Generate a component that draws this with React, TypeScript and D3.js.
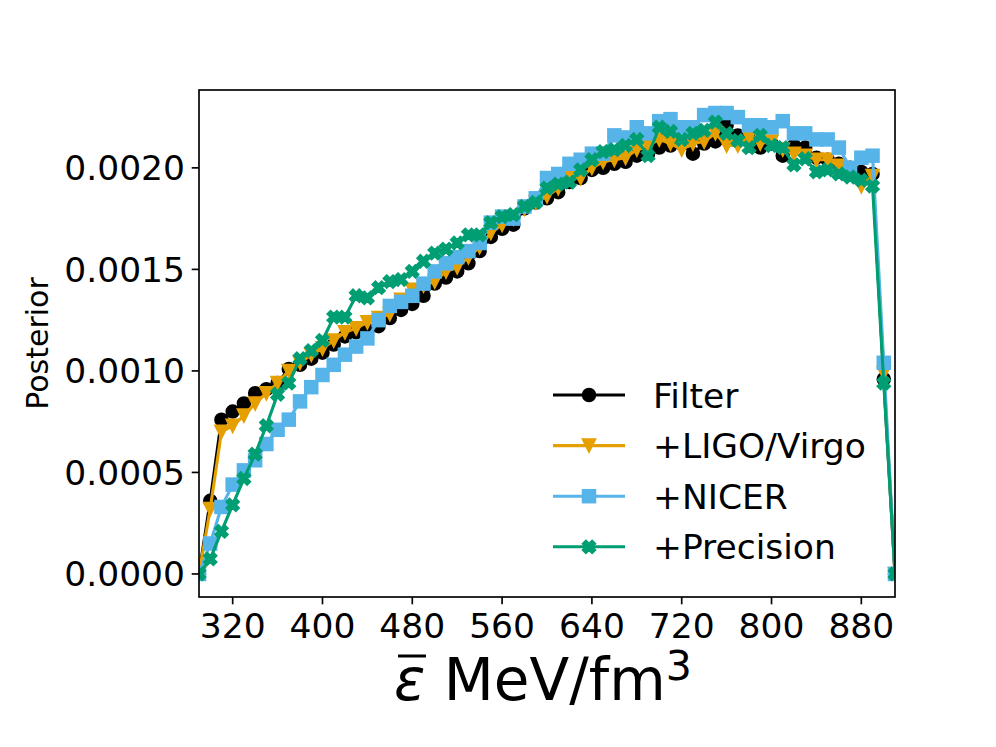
import React from "react";
import * as d3 from "d3";

const WIDTH = 996;
const HEIGHT = 747;
const MARGIN = { top: 90, right: 101, bottom: 150, left: 199 };

// energy density bins (MeV/fm^3)
const energy = [
  290, 300, 310, 320, 330, 340, 350, 360, 370, 380, 390, 400, 410, 420, 430, 440,
  450, 460, 470, 480, 490, 500, 510, 520, 530, 540, 550, 560, 570, 580, 590, 600,
  610, 620, 630, 640, 650, 660, 670, 680, 690, 700, 710, 720, 730, 740, 750, 760,
  770, 780, 790, 800, 810, 820, 830, 840, 850, 860, 870, 880, 890, 900, 910,
];

const filter = [
  0, 3.6e-4, 7.6e-4, 8.0e-4, 8.4e-4, 8.9e-4, 9.1e-4, 9.4e-4, 10.1e-4, 10.3e-4, 10.6e-4,
  10.9e-4, 11.3e-4, 11.7e-4, 11.9e-4, 12.0e-4, 12.2e-4, 12.6e-4, 13.0e-4, 13.3e-4, 13.7e-4,
  14.3e-4, 14.6e-4, 14.9e-4, 15.3e-4, 15.9e-4, 16.6e-4, 17.0e-4, 17.2e-4, 18.0e-4, 18.3e-4,
  18.5e-4, 18.8e-4, 19.3e-4, 19.5e-4, 19.9e-4, 20.0e-4, 20.2e-4, 20.3e-4, 20.6e-4, 20.7e-4,
  21.0e-4, 21.1e-4, 21.2e-4, 20.7e-4, 21.2e-4, 21.3e-4, 22.1e-4, 21.6e-4, 21.4e-4, 21.0e-4,
  21.2e-4, 20.6e-4, 21.1e-4, 21.0e-4, 20.5e-4, 20.4e-4, 20.2e-4, 20.0e-4, 19.8e-4, 19.7e-4,
  9.6e-4, 0,
];

const ligoVirgo = [
  0, 3.2e-4, 7.0e-4, 7.3e-4, 7.8e-4, 8.4e-4, 8.9e-4, 9.4e-4, 10.0e-4, 10.4e-4, 10.8e-4,
  11.1e-4, 11.5e-4, 11.9e-4, 12.1e-4, 12.4e-4, 12.6e-4, 12.8e-4, 13.5e-4, 14.0e-4, 14.2e-4,
  14.4e-4, 14.9e-4, 15.1e-4, 15.6e-4, 16.1e-4, 16.8e-4, 17.2e-4, 17.5e-4, 18.0e-4, 18.3e-4,
  18.6e-4, 19.0e-4, 19.5e-4, 19.5e-4, 20.0e-4, 20.3e-4, 20.4e-4, 20.5e-4, 20.9e-4, 21.1e-4,
  21.4e-4, 21.2e-4, 20.9e-4, 21.2e-4, 21.3e-4, 21.7e-4, 21.1e-4, 21.1e-4, 21.5e-4, 21.2e-4,
  21.3e-4, 20.9e-4, 20.7e-4, 20.6e-4, 20.4e-4, 20.4e-4, 20.1e-4, 19.8e-4, 19.1e-4, 19.6e-4,
  9.9e-4, 0,
];

const nicer = [
  0, 1.5e-4, 3.3e-4, 4.4e-4, 5.1e-4, 5.6e-4, 6.4e-4, 7.1e-4, 7.6e-4, 8.5e-4, 9.2e-4,
  9.8e-4, 10.3e-4, 10.8e-4, 11.2e-4, 11.6e-4, 12.5e-4, 13.2e-4, 13.4e-4, 13.7e-4, 14.3e-4,
  14.9e-4, 15.3e-4, 15.6e-4, 15.9e-4, 16.3e-4, 17.3e-4, 17.6e-4, 17.5e-4, 18.1e-4, 18.5e-4,
  19.5e-4, 19.7e-4, 20.2e-4, 20.4e-4, 20.7e-4, 20.7e-4, 21.6e-4, 21.5e-4, 22.0e-4, 21.7e-4,
  22.3e-4, 22.4e-4, 22.0e-4, 22.0e-4, 22.6e-4, 22.7e-4, 22.7e-4, 22.5e-4, 22.1e-4, 22.1e-4,
  22.0e-4, 22.3e-4, 21.7e-4, 21.7e-4, 21.4e-4, 21.4e-4, 21.0e-4, 20.0e-4, 20.5e-4, 20.6e-4,
  10.4e-4, 0,
];

const precision = [
  0, 0.74e-4, 2.1e-4, 3.4e-4, 4.7e-4, 5.9e-4, 7.3e-4, 8.85e-4, 9.4e-4, 10.6e-4, 11.0e-4,
  11.5e-4, 12.65e-4, 12.65e-4, 13.7e-4, 13.6e-4, 14.1e-4, 14.4e-4, 14.5e-4, 14.9e-4, 15.4e-4,
  15.8e-4, 16.0e-4, 16.3e-4, 16.7e-4, 16.7e-4, 17.3e-4, 17.6e-4, 17.7e-4, 18.1e-4, 18.3e-4,
  19.0e-4, 19.2e-4, 19.3e-4, 19.9e-4, 20.4e-4, 20.8e-4, 20.9e-4, 21.1e-4, 21.4e-4, 20.6e-4,
  22.0e-4, 21.8e-4, 21.4e-4, 21.7e-4, 21.85e-4, 22.25e-4, 21.7e-4, 21.35e-4, 21.0e-4, 21.6e-4,
  21.1e-4, 21.0e-4, 20.15e-4, 20.45e-4, 19.8e-4, 19.9e-4, 19.7e-4, 19.55e-4, 19.4e-4, 19.1e-4,
  9.4e-4, 0,
];

const xTicks = [320, 400, 480, 560, 640, 720, 800, 880];
const yTicks = [0, 0.0005, 0.001, 0.0015, 0.002];

const SERIES = [
  { label: "Filter", values: filter, color: "#000000", marker: "o" },
  { label: "+LIGO/Virgo", values: ligoVirgo, color: "#E69F00", marker: "v" },
  { label: "+NICER", values: nicer, color: "#56B4E9", marker: "s" },
  { label: "+Precision", values: precision, color: "#009E73", marker: "X" },
];

const FONT = "DejaVu Sans, sans-serif";
const TICK_FS = 34.5;
const MS = 12.5; // marker size in px

const Marker = ({ kind, x, y, color }) => {
  const h = MS / 2;
  const common = { fill: color, stroke: color, strokeWidth: 2 };
  if (kind === "o") return <circle cx={x} cy={y} r={h} {...common} />;
  if (kind === "s")
    return <rect x={x - h} y={y - h} width={MS} height={MS} {...common} />;
  if (kind === "v")
    return (
      <path
        d={`M${x},${y + h}L${x - h},${y - h}L${x + h},${y - h}Z`}
        {...common}
        strokeLinejoin="miter"
      />
    );
  // filled X
  const pts = [
    [-1, -2], [0, -1], [1, -2], [2, -1], [1, 0], [2, 1],
    [1, 2], [0, 1], [-1, 2], [-2, 1], [-1, 0], [-2, -1],
  ];
  const k = MS / 4;
  const d = "M" + pts.map(([a, b]) => `${x + a * k},${y + b * k}`).join("L") + "Z";
  return <path d={d} {...common} />;
};

export default function App() {
  const iw = WIDTH - MARGIN.left - MARGIN.right;
  const ih = HEIGHT - MARGIN.top - MARGIN.bottom;

  const xScale = d3
    .scaleLinear()
    .domain([energy[0], energy[energy.length - 1]])
    .range([0, iw]);

  const all = SERIES.flatMap((s) => s.values);
  const [lo, hi] = d3.extent(all);
  const pad = (hi - lo) * 0.05;
  const yScale = d3.scaleLinear().domain([lo - pad, hi + pad]).range([ih, 0]);

  const lineBuilder = d3
    .line()
    .x((_, i) => xScale(energy[i]))
    .y((d) => yScale(d));

  const fmt = d3.format(".4f");

  return (
    <svg
      width={WIDTH}
      height={HEIGHT}
      style={{ position: "absolute", left: 0, top: 0, background: "#fff" }}
      fontFamily={FONT}
    >
      <defs>
        <clipPath id="plot-area">
          <rect x={0} y={0} width={iw} height={ih} />
        </clipPath>
      </defs>
      <g transform={`translate(${MARGIN.left},${MARGIN.top})`}>
        <g clipPath="url(#plot-area)">
          {SERIES.map((s) => (
            <g key={s.label}>
              <path
                d={lineBuilder(s.values)}
                fill="none"
                stroke={s.color}
                strokeWidth={3.1}
                strokeLinejoin="round"
              />
              {s.values.map((v, i) => (
                <Marker
                  key={i}
                  kind={s.marker}
                  x={xScale(energy[i])}
                  y={yScale(v)}
                  color={s.color}
                />
              ))}
            </g>
          ))}
        </g>

        {/* spines */}
        <rect x={0} y={0} width={iw} height={ih} fill="none" stroke="#000" strokeWidth={1.67} />

        {/* x axis */}
        {xTicks.map((t) => (
          <g key={t} transform={`translate(${xScale(t)},${ih})`}>
            <line y1={0} y2={7.3} stroke="#000" strokeWidth={1.67} />
            <text y={41} textAnchor="middle" fontSize={TICK_FS} fill="#000">
              {t}
            </text>
          </g>
        ))}

        {/* y axis */}
        {yTicks.map((t) => (
          <g key={t} transform={`translate(0,${yScale(t)})`}>
            <line x1={0} x2={-7.3} stroke="#000" strokeWidth={1.67} />
            <text x={-14} y={12.5} textAnchor="end" fontSize={TICK_FS} fill="#000">
              {fmt(t)}
            </text>
          </g>
        ))}
      </g>

      {/* axis labels */}
      <text
        transform={`translate(48,${MARGIN.top + ih / 2}) rotate(-90)`}
        textAnchor="middle"
        fontSize={30}
        fill="#000"
      >
        Posterior
      </text>
      <text x={394} y={700} fontSize={58} fill="#000">
        <tspan fontStyle="italic">ε</tspan>
        <tspan> MeV/fm</tspan>
        <tspan dy={-20} fontSize={41}>3</tspan>
      </text>
      <line x1={398} x2={426} y1={656} y2={656} stroke="#000" strokeWidth={3} />

      {/* legend */}
      {SERIES.map((s, i) => {
        const ly = 395 + i * 50.6;
        return (
          <g key={s.label}>
            <line x1={553} x2={625} y1={ly} y2={ly} stroke={s.color} strokeWidth={3.1} />
            <Marker kind={s.marker} x={589} y={ly} color={s.color} />
            <text x={653} y={ly + 12.5} fontSize={TICK_FS} fill="#000">
              {s.label}
            </text>
          </g>
        );
      })}
    </svg>
  );
}
